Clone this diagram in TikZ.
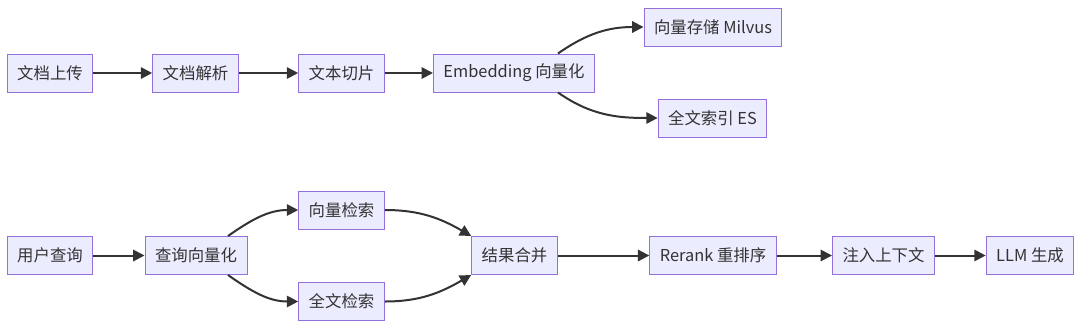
\documentclass[tikz,border=0pt]{standalone}
\usepackage{fontspec}
\setmainfont{Noto Sans CJK SC}
\usetikzlibrary{arrows.meta}

\definecolor{boxfill}{HTML}{ECECFF}
\definecolor{boxline}{HTML}{9370DB}
\definecolor{arrowcol}{HTML}{333333}

\tikzset{
  box/.style={draw=boxline, fill=boxfill, line width=0.75pt,
    minimum height=28.5pt, inner xsep=7.5pt, inner ysep=0pt,
    font=\fontsize{12.3pt}{14pt}\selectfont, text=arrowcol},
  arr/.style={draw=arrowcol, line width=1.5pt,
    -{Triangle[length=8.5pt,width=8.5pt]}}
}

\begin{document}
\begin{tikzpicture}[x=0.75pt, y=-0.75pt]
    \useasboundingbox (0,0) rectangle (1080,329);

    % 文档入库
    \node[box] (upload) at (50,73) {文档上传};
    \node[box] (parse) at (195.5,73) {文档解析};
    \node[box] (chunk) at (341.5,73) {文本切片};
    \node[box] (embed) at (514,73) {Embedding 向量化};
    \node[box] (milvus) at (713,27) {向量存储 Milvus};
    \node[box] (es) at (712.5,118) {全文索引 ES};

    \draw[arr] (upload) -- (parse);
    \draw[arr] (parse) -- (chunk);
    \draw[arr] (chunk) -- (embed);
    \draw[arr] ([xshift=33pt]embed.north) to[out=35, in=180] (milvus.west);
    \draw[arr] ([xshift=33pt]embed.south) to[out=-35, in=180] (es.west);

    % 查询流程
    \node[box] (query) at (50,255.5) {用户查询};
    \node[box] (qvec) at (196,255.5) {查询向量化};
    \node[box] (vsearch) at (341.5,210) {向量检索};
    \node[box] (fsearch) at (341.5,301.5) {全文检索};
    \node[box] (merge) at (514.5,255.5) {结果合并};
    \node[box] (rerank) at (713,255.5) {Rerank 重排序};
    \node[box] (inject) at (883.5,255.5) {注入上下文};
    \node[box] (llm) at (1030,255.5) {LLM 生成};

    \draw[arr] (query) -- (qvec);
    \draw[arr] ([xshift=24pt]qvec.north) to[out=35, in=180] (vsearch.west);
    \draw[arr] ([xshift=24pt]qvec.south) to[out=-35, in=180] (fsearch.west);
    \draw[arr] (vsearch.east) to[out=0, in=150] (merge.north west);
    \draw[arr] (fsearch.east) to[out=0, in=210] (merge.south west);
    \draw[arr] (merge) -- (rerank);
    \draw[arr] (rerank) -- (inject);
    \draw[arr] (inject) -- (llm);
\end{tikzpicture}
\end{document}
